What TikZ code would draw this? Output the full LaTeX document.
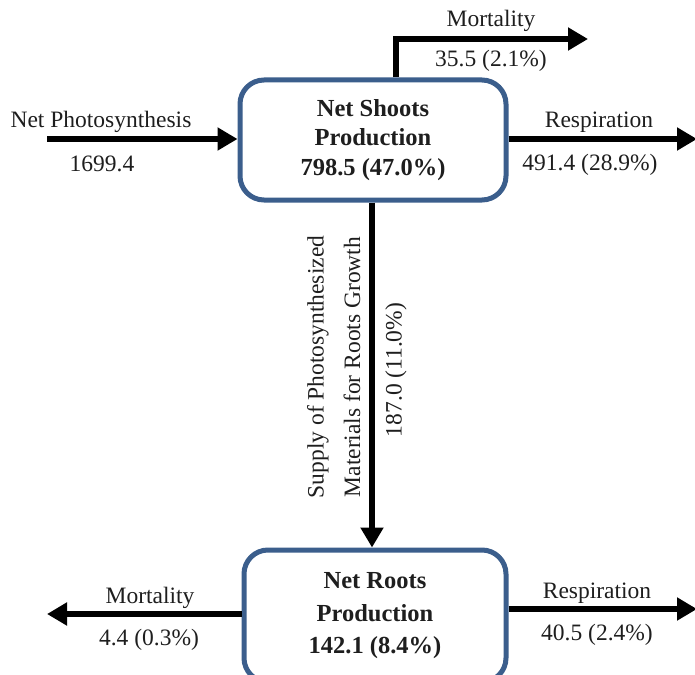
\documentclass[tikz,border=0pt]{standalone}
\usepackage{fontspec}
\setmainfont{Liberation Serif}
\usetikzlibrary{arrows.meta}
\definecolor{boxblue}{HTML}{3B5E8C}
\definecolor{txt}{HTML}{1E1E1E}
\begin{document}
\begin{tikzpicture}[x=1pt,y=-1pt,
  flowbox/.style={draw=boxblue,line width=5pt,rounded corners=24pt,fill=white,
    inner sep=0pt,align=center,text=txt,font=\fontsize{24.5}{29.5}\selectfont\bfseries},
  arr/.style={line width=6pt,-{Triangle[length=20pt,width=22pt]},line join=miter},
  lbl/.style={inner sep=0pt,anchor=base,text=txt,font=\fontsize{23.5}{28}\selectfont},
  rlbl/.style={inner sep=0pt,rotate=90,text=txt,font=\fontsize{23.5}{28}\selectfont}]
\useasboundingbox (0,0) rectangle (695,674);
% boxes
\node[flowbox,minimum width=266pt,minimum height=120pt] (shoots) at (373,140)
  {Net Shoots\\Production\\798.5 (47.0\%)};
\node[flowbox,minimum width=262pt,minimum height=132pt,
  font=\fontsize{24.5}{32.5}\selectfont\bfseries] (roots) at (375,616)
  {Net Roots\\Production\\142.1 (8.4\%)};
% free ends
\coordinate (np) at (47,139);
\coordinate (mtc) at (396,39);
\coordinate (mt) at (588,39);
\coordinate (rs) at (697,139);
\coordinate (vx) at (372,0);
\coordinate (rm) at (47,614);
\coordinate (rr) at (697,609);
% connectors
\draw[arr] (np) -- (np -| shoots.west);
\draw[arr] (mtc |- shoots.north) -- (mtc) -- (mt);
\draw[arr] (rs -| shoots.east) -- (rs);
\draw[arr] (vx |- shoots.south) -- (vx |- roots.north);
\draw[arr] (rm -| roots.west) -- (rm);
\draw[arr] (rr -| roots.east) -- (rr);
% labels
\node[lbl] (l1) at (101,128) {Net Photosynthesis};
\node[lbl] (l2) at (102,171) {1699.4};
\node[lbl] (l3) at (491,27) {Mortality};
\node[lbl] (l4) at (491,67) {35.5 (2.1\%)};
\node[lbl] (l5) at (599,128) {Respiration};
\node[lbl] (l6) at (590,170) {491.4 (28.9\%)};
\node[rlbl] (l7) at (318,367) {Supply of Photosynthesized};
\node[rlbl] (l8) at (352,367) {Materials for Roots Growth};
\node[rlbl] (l9) at (396,370) {187.0 (11.0\%)};
\node[lbl] (l10) at (150,603) {Mortality};
\node[lbl] (l11) at (149,645) {4.4 (0.3\%)};
\node[lbl] (l12) at (597,598) {Respiration};
\node[lbl] (l13) at (597,640) {40.5 (2.4\%)};
\end{tikzpicture}
\end{document}
